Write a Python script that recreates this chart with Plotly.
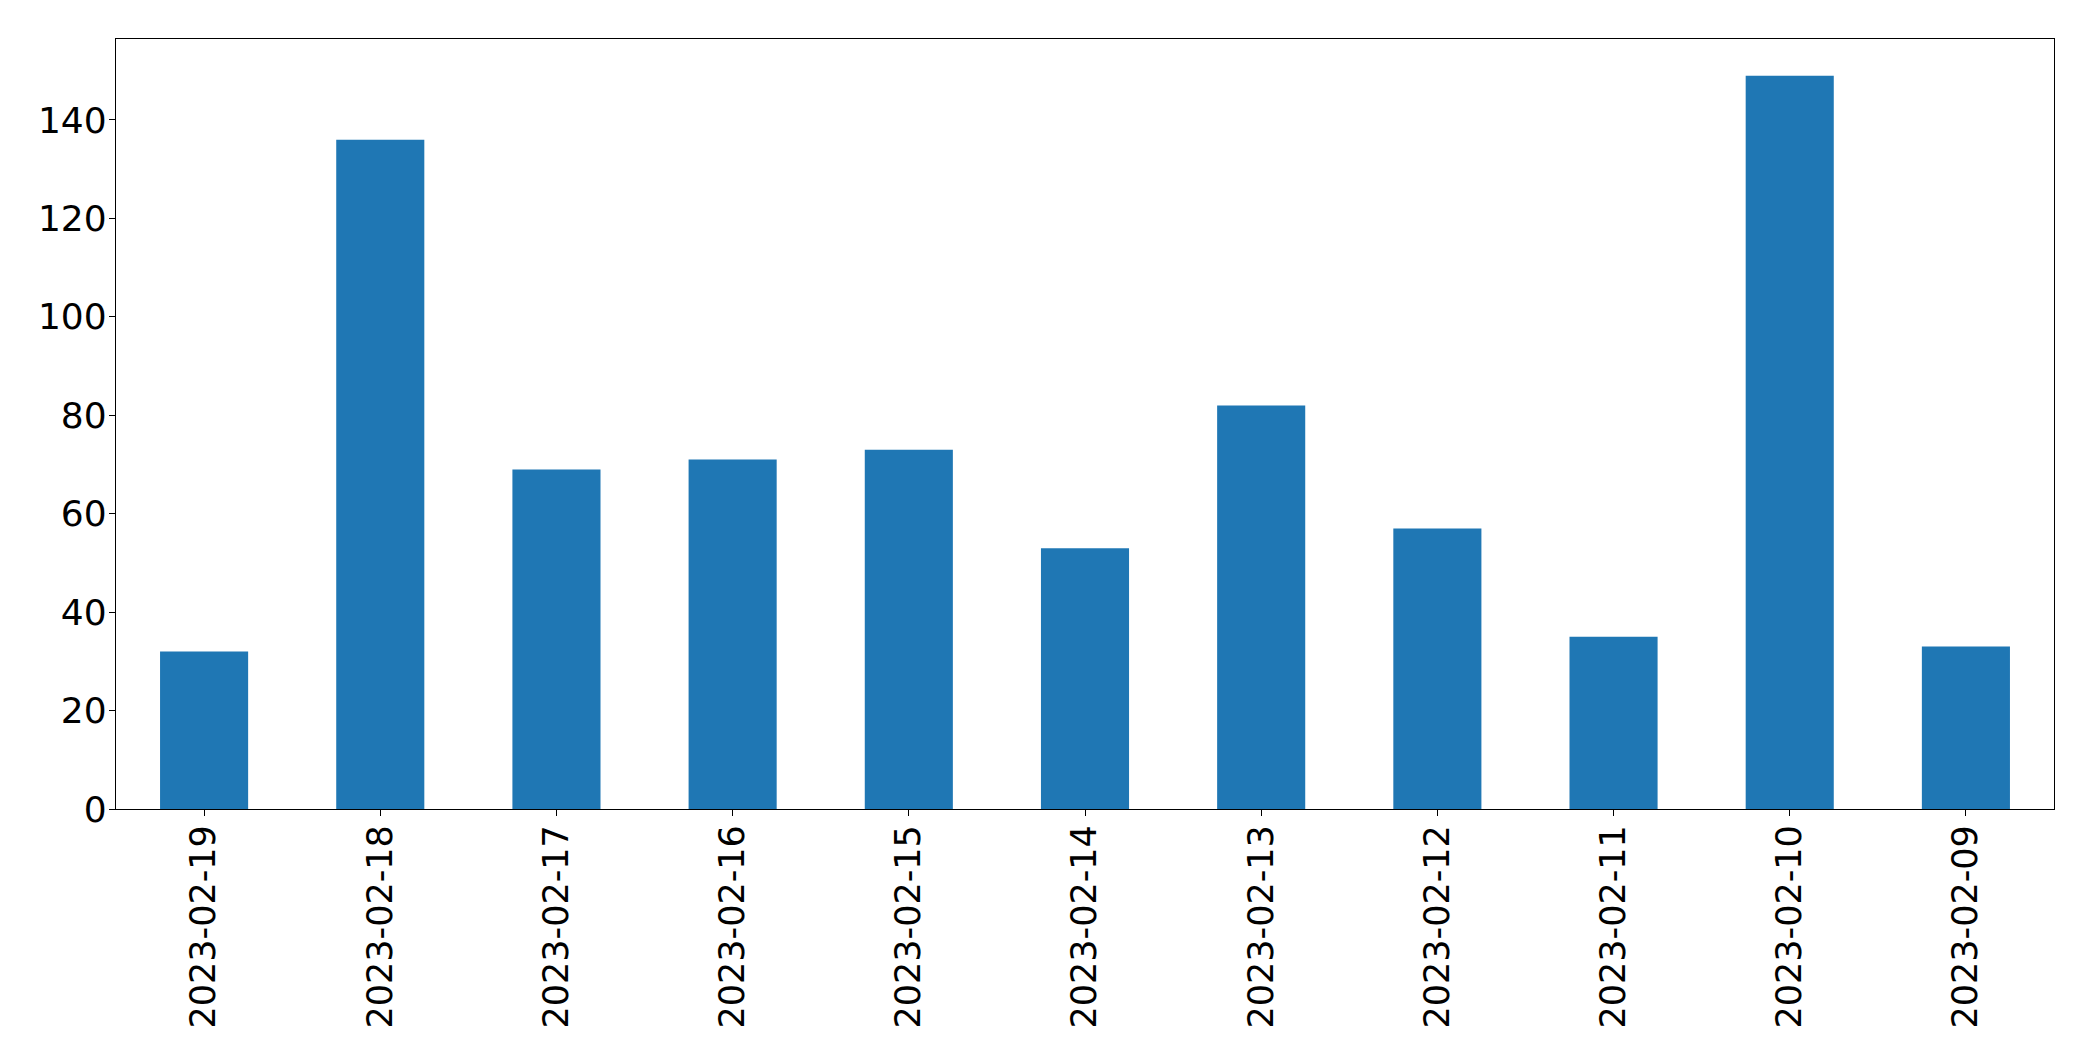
import plotly.graph_objects as go

dates = ["2023-02-19", "2023-02-18", "2023-02-17", "2023-02-16", "2023-02-15",
         "2023-02-14", "2023-02-13", "2023-02-12", "2023-02-11", "2023-02-10",
         "2023-02-09"]
counts = [32, 136, 69, 71, 73, 53, 82, 57, 35, 149, 33]
y_ticks = [0, 20, 40, 60, 80, 100, 120, 140]

fig = go.Figure(go.Bar(x=dates, y=counts, width=0.5, marker=dict(color="#1f77b4", line=dict(width=0))))

font = dict(family="DejaVu Sans", size=35, color="black")
fig.update_layout(
    width=2093, height=1061,
    margin=dict(l=116, r=39, t=39, b=252, autoexpand=False),
    paper_bgcolor="white", plot_bgcolor="white",
    showlegend=False,
    font=font,
)
fig.update_xaxes(
    type="category", range=[-0.5, 10.5], tickangle=-90, automargin=False,
    showline=True, linecolor="black", linewidth=1.3, mirror=True,
    ticks="outside", ticklen=6, tickwidth=1.3, tickcolor="black",
    showgrid=False, zeroline=False, tickfont=font, ticklabelstandoff=-5,
)
fig.update_yaxes(
    range=[0, 156.45], tickvals=y_ticks, automargin=False,
    showline=True, linecolor="black", linewidth=1.3, mirror=True,
    ticks="outside", ticklen=6, tickwidth=1.3, tickcolor="black",
    showgrid=False, zeroline=False, ticklabelstandoff=-5,
    tickfont=dict(family="DejaVu Sans", size=36, color="black"),
)
fig.write_html("out.html", config={"displayModeBar": False},
               post_script="document.body.style.margin='0';document.body.style.overflow='hidden';")
